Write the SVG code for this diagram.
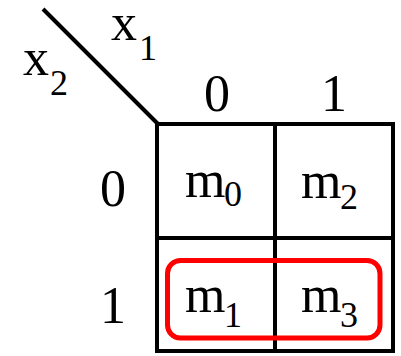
<svg xmlns="http://www.w3.org/2000/svg" width="401" height="356" viewBox="0 0 401 356">
<style>
text{font-family:"Liberation Serif","Times New Roman",serif;fill:#000}
.b{font-size:52px}
.s{font-size:36px}
.ln{stroke:#000;stroke-width:4;fill:none}
</style>
<rect width="401" height="356" fill="#fff"/>
<g id="connectors">
<line class="ln" x1="43" y1="9" x2="158" y2="124"/>
</g>
<g id="grid">
<rect class="ln" x="157" y="124" width="236" height="227"/>
<line class="ln" x1="275" y1="124" x2="275" y2="351"/>
<line class="ln" x1="157" y1="238" x2="393" y2="238"/>
</g>
<g id="var-x1"><text class="b" x="111" y="40">x</text><text class="s" x="139" y="60">1</text></g>
<g id="var-x2"><text class="b" x="23" y="75">x</text><text class="s" x="50" y="95">2</text></g>
<g id="col0"><text class="b" x="217" y="111" text-anchor="middle">0</text></g>
<g id="col1"><text class="b" x="334" y="111" text-anchor="middle">1</text></g>
<g id="row0"><text class="b" x="113" y="206" text-anchor="middle">0</text></g>
<g id="row1"><text class="b" x="113" y="323" text-anchor="middle">1</text></g>
<g id="m0"><text class="b" x="185" y="197">m</text><text class="s" x="224" y="206">0</text></g>
<g id="m2"><text class="b" x="301" y="198">m</text><text class="s" x="340" y="209">2</text></g>
<g id="m1"><text class="b" x="185" y="312">m</text><text class="s" x="224" y="327">1</text></g>
<g id="m3"><text class="b" x="301" y="312">m</text><text class="s" x="340" y="327">3</text></g>
<g id="group"><rect x="167.5" y="260.5" width="212.5" height="77.5" rx="13" fill="none" stroke="#f00" stroke-width="5"/></g>
</svg>
